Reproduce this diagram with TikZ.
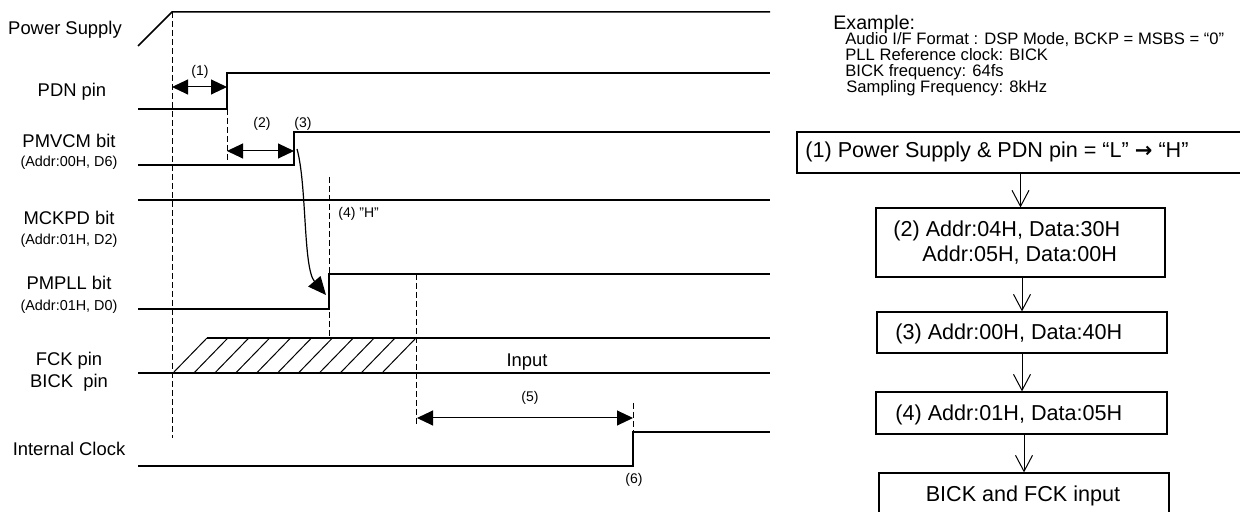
\documentclass[tikz,border=0pt]{standalone}
\usepackage{fontspec}
\setmainfont{Liberation Sans}
\newfontfamily\arrowfont{DejaVu Sans}
\usetikzlibrary{arrows.meta}
\begin{document}
\begin{tikzpicture}[x=0.5pt,y=-0.5pt,
  wave/.style={line width=0.75pt},
  dsh/.style={line width=0.5pt, dash pattern=on 3pt off 1.5pt},
  dim/.style={line width=0.5pt, {Triangle[length=8pt,width=7.5pt]}-{Triangle[length=8pt,width=7.5pt]}},
  big/.style={font=\fontsize{9.2}{11}\selectfont, inner sep=0pt, anchor=base},
  sub/.style={font=\fontsize{7.2}{9}\selectfont, inner sep=0pt, anchor=base},
  num/.style={font=\fontsize{7}{9}\selectfont, inner sep=0pt, anchor=base},
  ex/.style={font=\fontsize{8.3}{10}\selectfont, inner sep=0pt, anchor=base west},
  box/.style={draw, line width=0.6pt, inner sep=0pt},
  btxt/.style={font=\fontsize{10.8}{13}\selectfont, inner sep=0pt, anchor=base west},
  flow/.style={line width=0.5pt, -{Straight Barb[length=8pt,width=8.5pt]}}]
\useasboundingbox (0,0) rectangle (1240,512);
\clip (0,0) rectangle (1240,512);

% waveforms
\draw[wave] (138,46) -- (172,12) -- (770,12);
\draw[wave] (138,109) -- (227,109) -- (227,73) -- (770,73);
\draw[wave] (138,165) -- (294,165) -- (294,132) -- (770,132);
\draw[wave] (138,200) -- (770,200);
\draw[wave] (138,309) -- (329,309) -- (329,274) -- (770,274);
\draw[wave] (138,373) -- (770,373);
\draw[wave] (207,338) -- (770,338);
\foreach \k in {0,...,10} \draw[line width=0.5pt] (173+20.9*\k,373) -- (207+20.9*\k,338);
\draw[wave] (138,466) -- (633,466) -- (633,432) -- (770,432);

% dashed guides
\draw[dsh] (172,12) -- (172,438);
\draw[dsh] (227,109) -- (227,163);
\draw[dsh] (329,177) -- (329,338);
\draw[dsh] (416,274) -- (416,425);
\draw[dsh] (633,403) -- (633,432);

% dimension arrows
\coordinate (d1a) at (172,87);  \coordinate (d1b) at (227,87);
\coordinate (d2a) at (227,151); \coordinate (d2b) at (294,151);
\coordinate (d5a) at (417,418); \coordinate (d5b) at (633,418);
\draw[dim] (d1a) -- (d1b);
\draw[dim] (d2a) -- (d2b);
\draw[dim] (d5a) -- (d5b);

% curved arrow
\coordinate (cs) at (297,149); \coordinate (ce) at (326,295);
\draw[line width=0.6pt, -{Triangle[length=9pt,width=8pt]}] (cs) .. controls (307,185) and (303,268) .. (ce);

% left labels
\node[big] (lps) at (65,35) {Power Supply};
\node[big] (lpdn) at (72,97) {PDN pin};
\node[big] (lpmv) at (69,148) {PMVCM bit};
\node[sub] (lpmva) at (69,167) {(Addr:00H, D6)};
\node[big] (lmck) at (69,225) {MCKPD bit};
\node[sub] (lmcka) at (69,245) {(Addr:01H, D2)};
\node[big] (lpll) at (69,290) {PMPLL bit};
\node[sub] (lplla) at (69,311) {(Addr:01H, D0)};
\node[big] (lfck) at (69,366) {FCK pin};
\node[big] (lbck) at (69,388) {BICK~~pin};
\node[big] (lint) at (69,455) {Internal Clock};

% small labels
\node[num] (n1) at (200,76) {(1)};
\node[num] (n2) at (262,128) {(2)};
\node[num] (n3) at (303,128) {(3)};
\node[num, anchor=base west] (n4) at (338,218) {(4) "H"};
\node[num] (n5) at (530,401) {(5)};
\node[num] (n6) at (634,483) {(6)};
\node[big] (inp) at (527,367) {Input};

% example text
\node[font=\fontsize{9.8}{12}\selectfont, inner sep=0pt, anchor=base west] (exh) at (833,30) {Example:};
\node[ex] (ex1) at (845,45) {Audio I/F Format : DSP Mode, BCKP = MSBS = “0”};
\node[ex] (ex2) at (845,61) {PLL Reference clock: BICK};
\node[ex] (ex3) at (845,77) {BICK frequency: 64fs};
\node[ex] (ex4) at (846,92.5) {Sampling Frequency: 8kHz};

% flow chart
\node[box, minimum width=226.5pt, minimum height=20.5pt] (b1) at (1023.5,152.5) {};
\node[box, minimum width=144.5pt, minimum height=34.5pt] (b2) at (1020.5,242.5) {};
\node[box, minimum width=145pt, minimum height=20.5pt] (b3) at (1022,332.5) {};
\node[box, minimum width=145.5pt, minimum height=21pt] (b4) at (1021.5,413) {};
\node[box, minimum width=145pt, minimum height=28.5pt] (b5) at (1024,501.5) {};
\node[btxt] (t1) at (805,158) {(1) Power Supply \& PDN pin = “L” {\arrowfont\bfseries\fontsize{10.5}{13}\selectfont →} “H”};
\node[btxt] (t2a) at (893,237) {(2) Addr:04H, Data:30H};
\node[btxt] (t2b) at (922,262) {Addr:05H, Data:00H};
\node[btxt] (t3) at (895,340) {(3) Addr:00H, Data:40H};
\node[btxt] (t4) at (895,421) {(4) Addr:01H, Data:05H};
\node[btxt, anchor=base] (t5) at (1023,501) {BICK and FCK input};
\draw[flow] (b2.north |- b1.south) -- (b2.north);
\draw[flow] (b3.north |- b2.south) -- (b3.north);
\draw[flow] (b3.south) -- (b3.south |- b4.north);
\draw[flow] (b5.north |- b4.south) -- (b5.north);
\end{tikzpicture}
\end{document}
